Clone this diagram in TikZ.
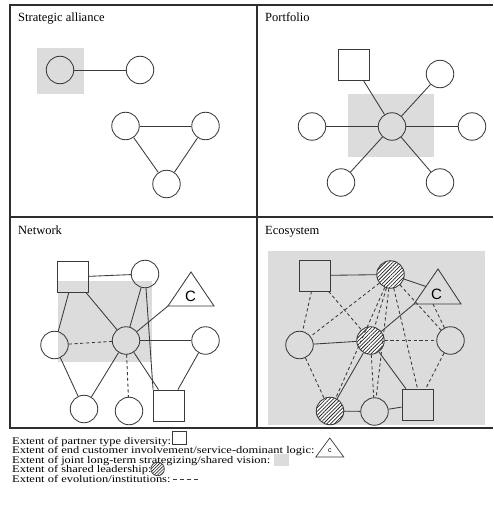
\documentclass[tikz,border=0pt]{standalone}
\usepackage{fontspec}
\setmainfont{Liberation Serif}
\newfontfamily\legendfont{Liberation Serif}[FakeStretch=1.22]
\newfontfamily\tagfont{Liberation Sans}
\usetikzlibrary{patterns.meta}
\definecolor{framecol}{HTML}{2E2E2E}
\definecolor{linecol}{HTML}{3A3A3A}
\definecolor{sharedgray}{HTML}{DCDCDC}
\begin{document}
\begin{tikzpicture}[x=1pt,y=-1pt,
  frameline/.style={draw=framecol, line width=1.2pt},
  link/.style={draw=linecol, line width=0.85pt},
  dlink/.style={link, dash pattern=on 3.2pt off 2.6pt},
  actor/.style={circle, draw=linecol, line width=0.85pt, minimum size=27.5pt, inner sep=0pt},
  leader/.style={actor, preaction={fill=white},
    pattern={Lines[angle=45, distance=2.6pt, line width=0.75pt]}, pattern color=black!85},
  partner/.style={rectangle, draw=linecol, line width=0.85pt, minimum size=31pt, inner sep=0pt},
  shared/.style={fill=sharedgray},
  title/.style={anchor=base west, inner sep=0pt, font=\fontsize{12.5}{14}\selectfont},
  legend/.style={anchor=base west, inner sep=0pt, font=\legendfont\fontsize{10.2}{11}\selectfont},
  cee/.style={inner sep=0pt, font=\tagfont\fontsize{15}{16}\selectfont}
]
\useasboundingbox (0,0) rectangle (493,508);

% panel frame
\draw[frameline] (493,5) -- (10,5) -- (10,428) -- (493,428);
\draw[frameline] (257,5) -- (257,428);
\draw[frameline] (10,217) -- (493,217);

% ---------- Strategic alliance ----------
\node[title] (t-sa) at (18,22) {Strategic alliance};
\fill[shared] (37,48) rectangle (84,94);
\node[actor] (sa1) at (60,70) {};
\node[actor] (sa2) at (140,70) {};
\node[actor] (sa3) at (125.5,126) {};
\node[actor] (sa4) at (205.5,126) {};
\node[actor] (sa5) at (166.5,184) {};
\draw[link] (sa1) -- (sa2);
\draw[link] (sa3) -- (sa4);
\draw[link] (sa3) -- (sa5);
\draw[link] (sa4) -- (sa5);

% ---------- Portfolio ----------
\node[title] (t-po) at (265,22) {Portfolio};
\fill[shared] (348,94) rectangle (434,157);
\node[actor] (pc) at (392,126.5) {};
\node[partner] (psq) at (353.5,64.5) {};
\node[actor] (ptr) at (440,74) {};
\node[actor] (pl) at (312,126.5) {};
\node[actor] (pr) at (472,126.5) {};
\node[actor] (pbl) at (341,182.5) {};
\node[actor] (pbr) at (440,182.5) {};
\foreach \n in {psq,ptr,pl,pr,pbl,pbr} \draw[link] (pc) -- (\n);

% ---------- Network ----------
\node[title] (t-nw) at (18,234) {Network};
\fill[shared] (58,281) rectangle (152,362);
\node[partner] (nsq) at (73,277) {};
\node[actor] (ntop) at (145,274) {};
\node[actor] (nc) at (126,340.5) {};
\node[actor] (nl) at (54.5,345) {};
\node[actor] (nr) at (205.5,340.5) {};
\node[actor] (nbl) at (84,409) {};
\node[actor] (nbm) at (129,411) {};
\node[partner] (nbsq) at (169,405.5) {};
\coordinate (ntri-a) at (191,272);
\coordinate (ntri-l) at (168,306);
\coordinate (ntri-r) at (214,306);
\draw[link, line join=miter] (ntri-a) -- (ntri-l) -- (ntri-r) -- cycle;
\node[cee] (ntri) at (190.5,296) {C};
\draw[link] (nsq) -- (ntop);
\draw[link] (nsq) -- (nl);
\draw[link] (nsq) -- (nc);
\draw[link] (ntop) -- (nc);
\draw[link] (ntop) -- (nbsq.north west);
\draw[dlink] (nl) -- (nc);
\draw[link] (nl) -- (nbl);
\draw[link] (nc) -- (ntri-l);
\draw[link] (nc) -- (nr);
\draw[link] (nc) -- (nbl);
\draw[dlink] (nc) -- (nbm);
\draw[link] (nc) -- (nbsq);
\draw[link] (nr) -- (nbsq);

% ---------- Ecosystem ----------
\node[title] (t-es) at (265,234) {Ecosystem};
\fill[shared] (268,251) rectangle (485,425);
\node[partner] (esq) at (315,275.5) {};
\node[leader] (etop) at (390.5,274.5) {};
\node[actor] (el) at (299.5,345) {};
\node[leader] (ec) at (370.5,340.5) {};
\node[actor] (er) at (450.5,340.5) {};
\node[leader] (ebl) at (330,411) {};
\node[actor] (ebm) at (374.5,411.5) {};
\node[partner] (ebsq) at (417.5,404.5) {};
\coordinate (etri-a) at (438,269);
\coordinate (etri-l) at (414,304);
\coordinate (etri-r) at (461,304);
\coordinate (etri-s) at (426,286.5);
\coordinate (etri-b) at (433,304);
\draw[link, line join=miter] (etri-a) -- (etri-l) -- (etri-r) -- cycle;
\node[cee] (etri) at (436.5,294) {C};
% institutions (dashed)
\draw[dlink] (esq) -- (el);
\draw[dlink] (esq) -- (ec);
\draw[dlink] (etop) -- (el);
\draw[dlink] (etop) -- (ebl);
\draw[dlink] (etop) -- (ec);
\draw[dlink] (etop) -- (ebm);
\draw[dlink] (etop) -- (ebsq.north);
\draw[dlink] (etop) -- (er);
\draw[dlink] (el) -- (ebl);
\draw[dlink] (ec) -- (er);
\draw[dlink] (ec) -- (ebm);
\draw[dlink] (er) -- (ebsq);
\draw[dlink] (etri-b) -- (er);
% direct ties (solid)
\draw[link] (esq) -- (etop);
\draw[link] (etop) -- (etri-s);
\draw[link] (el) -- (ec);
\draw[link] (ec) -- (etri-l);
\draw[link] (ec) -- (ebl);
\draw[link] (ec) -- (ebsq);
\draw[link] (ebl) -- (ebm);
\draw[link] (ebm) -- (ebsq);

% ---------- Legend ----------
\node[legend] (lg1) at (12,444) {Extent of partner type diversity:};
\node[legend] (lg2) at (12,453.5) {Extent of end customer involvement/service-dominant logic:};
\node[legend] (lg3) at (12,463) {Extent of joint long-term strategizing/shared vision:};
\node[legend] (lg4) at (12,472.5) {Extent of shared leadership:};
\node[legend] (lg5) at (12,482) {Extent of evolution/institutions:};
\node[rectangle, draw=linecol, line width=0.85pt, minimum width=14pt, minimum height=13pt, inner sep=0pt, anchor=south west]
  (ls1) at ([xshift=1pt,yshift=-0.5pt]lg1.base east) {};
\coordinate (lt-l) at ([xshift=1pt,yshift=-3.5pt]lg2.base east);
\coordinate (lt-a) at ([xshift=14pt,yshift=19pt]lt-l);
\coordinate (lt-r) at ([xshift=28pt]lt-l);
\draw[link, line width=0.7pt, line join=miter] (lt-a) -- (lt-l) -- (lt-r) -- cycle;
\node[inner sep=0pt, font=\tagfont\fontsize{7}{8}\selectfont] (lt) at ([xshift=14pt,yshift=6.5pt]lt-l) {c};
\node[shared, minimum width=15pt, minimum height=12pt, inner sep=0pt, anchor=south west]
  (ls3) at ([xshift=3pt,yshift=-3pt]lg3.base east) {};
\node[circle, draw=linecol, line width=0.7pt, minimum size=13.5pt, inner sep=0pt, anchor=south west,
  preaction={fill=white}, pattern={Lines[angle=45, distance=2.2pt, line width=0.6pt]}, pattern color=black!85]
  (ls4) at ([xshift=1pt,yshift=-1.5pt]lg4.base east) {};
\coordinate (ld-s) at ([xshift=2pt,yshift=2.5pt]lg5.base east);
\coordinate (ld-e) at ([xshift=26pt]ld-s);
\draw[link, line width=0.7pt, dash pattern=on 4pt off 3pt] (ld-s) -- (ld-e);
\end{tikzpicture}
\end{document}
